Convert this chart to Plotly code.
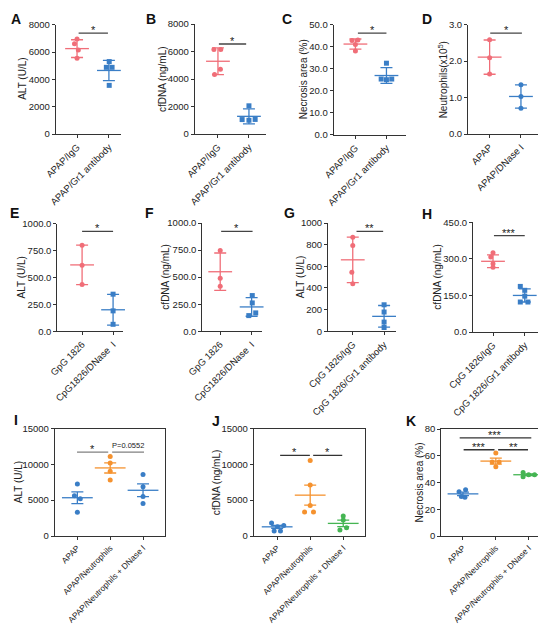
import plotly.graph_objects as go

W, H = 546, 630
FONT = "Arial, 'Liberation Sans', Helvetica, sans-serif"
RED = "#F06E78"
BLUE = "#3A7EC6"
ORANGE = "#F5922F"
GREEN = "#45B553"

# ---------------- data ----------------
A_groups = ["APAP/IgG", "APAP/Gr1 antibody"]
A_points = [[6950, 6600, 6150, 5550], [5300, 4880, 4880, 3560]]
A_jitter = [[0, -0.08, 0.04, 0], [0.01, -0.08, 0.1, 0.01]]
A_mean = [6250, 4650]
A_err = [650, 745]
A_sig = ["*"]

B_groups = ["APAP/IgG", "APAP/Gr1 antibody"]
B_points = [[6150, 6150, 4700, 4320], [2050, 1050, 1000, 1060]]
B_jitter = [[-0.13, 0.09, 0.08, -0.11], [0, -0.22, 0, 0.2]]
B_mean = [5290, 1285]
B_err = [970, 545]
B_sig = ["*"]

C_groups = ["APAP/IgG", "APAP/Gr1 antibody"]
C_points = [[42.8, 43.0, 41.0, 38.0], [32.5, 25.3, 25.0, 25.3]]
C_jitter = [[-0.11, 0.08, 0.0, 0.0], [0, -0.17, 0, 0.17]]
C_mean = [41.2, 26.9]
C_err = [2.3, 3.6]
C_sig = ["*"]

D_groups = ["APAP", "APAP/DNase I"]
D_points = [[2.59, 2.09, 1.65], [1.35, 1.03, 0.71]]
D_jitter = [[0, 0, 0], [0, 0, 0]]
D_mean = [2.11, 1.03]
D_err = [0.47, 0.32]
D_sig = ["*"]

E_groups = ["GpG 1826", "CpG1826/DNase\u00a0 I"]
E_points = [[800, 615, 435], [345, 190, 65]]
E_jitter = [[0, 0, 0], [0, 0, 0]]
E_mean = [617, 200]
E_err = [183, 143]
E_sig = ["*"]

F_groups = ["GpG 1826", "CpG1826/DNase\u00a0 I"]
F_points = [[745, 490, 415], [330, 262, 170, 145]]
F_jitter = [[0, 0, 0], [0.02, 0.02, 0.13, -0.09]]
F_mean = [550, 225]
F_err = [173, 86]
F_sig = ["*"]

G_groups = ["CpG 1826/IgG", "CpG 1826/Gr1 antibody"]
G_points = [[868, 792, 545, 440], [245, 178, 85, 35]]
G_jitter = [[0, 0, -0.03, 0], [0, 0, 0, 0]]
G_mean = [660, 138]
G_err = [210, 100]
G_sig = ["**"]

H_groups = ["CpG 1826/IgG", "CpG 1826/Gr1 antibody"]
H_points = [[325, 308, 280, 266], [187, 171, 147, 123, 123]]
H_jitter = [[0, -0.07, 0, 0], [-0.14, 0, 0, -0.14, 0.1]]
H_mean = [290, 150]
H_err = [26, 27]
H_sig = ["***"]

I_groups = ["APAP", "APAP/Neutrophils", "APAP/Neutrophils + DNase I"]
I_points = [[7250, 5600, 5200, 3300], [11100, 10180, 9040, 7800], [8580, 6880, 5500, 4540]]
I_jitter = [[0, -0.09, 0.09, 0], [0, 0, 0, 0], [0, 0, 0, 0]]
I_mean = [5340, 9500, 6380]
I_err = [810, 710, 880]
I_sig = ["*", "P=0.0552"]

J_groups = ["APAP", "APAP/Neutrophils", "APAP/Neutrophils + DNase I"]
J_points = [[1830, 1280, 1470, 700, 700], [10550, 7100, 4250, 3350, 3350], [2800, 2250, 1150, 850]]
J_jitter = [[-0.17, 0.01, 0.2, -0.09, 0.1], [0, 0, 0, -0.17, 0.1], [0, 0, 0.1, -0.1]]
J_mean = [1280, 5700, 1760]
J_err = [200, 1390, 450]
J_sig = ["*", "*"]

K_groups = ["APAP", "APAP/Neutrophils", "APAP/Neutrophils + DNase I"]
K_points = [[34.5, 33.0, 29.5, 29.0], [62.0, 55.4, 55.4, 51.7], [47.5, 44.3, 45.8, 45.8]]
K_jitter = [[0.08, -0.12, -0.05, 0.06], [0, -0.11, 0.1, 0], [-0.17, -0.17, 0, 0.18]]
K_mean = [31.5, 56.0, 45.8]
K_err = [1.3, 2.2, 0.7]
K_sig = ["***", "***", "**"]

# ---------------- layout specs (pixels) ----------------
TWO = [RED, BLUE]
panels = [
    dict(letter="A", groups=A_groups, pts=A_points, jit=A_jitter, mean=A_mean, err=A_err, sig=A_sig,
         colors=TWO, syms=["circle", "square"], box=(47.7, 113, 16.7, 126), xr=[-0.67, 1.38],
         yr=[0, 8000], ticks=[0, 2000, 4000, 6000, 8000], fmt="d", ylabel="ALT (U/L)",
         ylx=14.5, lxy=(7.5, 11), sigpos=[(0.05, 0.97, 7390)], sigcol="#444", mirror=False),
    dict(letter="B", groups=B_groups, pts=B_points, jit=B_jitter, mean=B_mean, err=B_err, sig=B_sig,
         colors=TWO, syms=["circle", "square"], box=(186.7, 258, 16, 126), xr=[-0.75, 1.55],
         yr=[0, 8000], ticks=[0, 2000, 4000, 6000, 8000], fmt="d", ylabel="cfDNA (ng/mL)",
         ylx=154, lxy=(143, 11), sigpos=[(0.03, 0.91, 6545)], sigcol="#444", mirror=False),
    dict(letter="C", groups=C_groups, pts=C_points, jit=C_jitter, mean=C_mean, err=C_err, sig=C_sig,
         colors=TWO, syms=["circle", "square"], box=(325.7, 398, 16.7, 126.7), xr=[-0.70, 1.63],
         yr=[0, 50], ticks=[0, 10, 20, 30, 40, 50], fmt=".1f", ylabel="Necrosis area (%)",
         ylx=295.5, lxy=(279, 11), sigpos=[(0.08, 1.0, 46.2)], sigcol="#444", mirror=False),
    dict(letter="D", groups=D_groups, pts=D_points, jit=D_jitter, mean=D_mean, err=D_err, sig=D_sig,
         colors=TWO, syms=["circle", "circle"], box=(460, 533, 16.7, 126), xr=[-0.69, 1.64],
         yr=[0, 3], ticks=[0, 1, 2, 3], fmt=".1f", ylabel="Neutrophils(x10<sup>5</sup>)",
         ylx=435, lxy=(419, 11), sigpos=[(0.02, 1.03, 2.77)], sigcol="#444", mirror=False),
    dict(letter="E", groups=E_groups, pts=E_points, jit=E_jitter, mean=E_mean, err=E_err, sig=E_sig,
         colors=TWO, syms=["circle", "square"], box=(49.3, 115, 215.7, 323.3), xr=[-0.80, 1.32],
         yr=[0, 1000], ticks=[0, 250, 500, 750, 1000], fmt=".1f", ylabel="ALT (U/L)",
         ylx=13, lxy=(6.5, 205), sigpos=[(0.0, 1.0, 929)], sigcol="#444", mirror=False),
    dict(letter="F", groups=F_groups, pts=F_points, jit=F_jitter, mean=F_mean, err=F_err, sig=F_sig,
         colors=TWO, syms=["circle", "square"], box=(194.3, 254, 215, 323.3), xr=[-0.57, 1.33],
         yr=[0, 1000], ticks=[0, 250, 500, 750, 1000], fmt=".1f", ylabel="cfDNA (ng/mL)",
         ylx=157.5, lxy=(141.7, 205), sigpos=[(0.03, 1.03, 923)], sigcol="#444", mirror=False),
    dict(letter="G", groups=G_groups, pts=G_points, jit=G_jitter, mean=G_mean, err=G_err, sig=G_sig,
         colors=TWO, syms=["circle", "square"], box=(320, 388, 215, 323.3), xr=[-0.79, 1.38],
         yr=[0, 1000], ticks=[0, 200, 400, 600, 800, 1000], fmt="d", ylabel="ALT (U/L)",
         ylx=292, lxy=(281, 205), sigpos=[(0.12, 0.97, 923)], sigcol="#444", mirror=False),
    dict(letter="H", groups=H_groups, pts=H_points, jit=H_jitter, mean=H_mean, err=H_err, sig=H_sig,
         colors=TWO, syms=["circle", "square"], box=(465, 537.7, 214.3, 324), xr=[-0.63, 1.66],
         yr=[0, 450], ticks=[0, 150, 300, 450], fmt=".1f", ylabel="cfDNA (ng/mL)",
         ylx=429.5, lxy=(419, 206), sigpos=[(0.03, 1.0, 395)], sigcol="#444", mirror=False),
    dict(letter="I", groups=I_groups, pts=I_points, jit=I_jitter, mean=I_mean, err=I_err, sig=I_sig,
         colors=[BLUE, ORANGE, BLUE], syms=["circle"] * 3, box=(46.7, 156.7, 420.5, 528), xr=[-0.69, 2.66],
         yr=[0, 15000], ticks=[0, 5000, 10000, 15000], fmt="d", ylabel="ALT (U/L)",
         ylx=10, lxy=(7.5, 411.5), sigpos=[(-0.01, 0.94, 11700), (1.06, 2.03, 11700)], sigcol="#808080",
         mirror=True),
    dict(letter="J", groups=J_groups, pts=J_points, jit=J_jitter, mean=J_mean, err=J_err, sig=J_sig,
         colors=[BLUE, ORANGE, GREEN], syms=["circle"] * 3, box=(245.7, 356.7, 420.5, 528), xr=[-0.71, 2.65],
         yr=[0, 15000], ticks=[0, 5000, 10000, 15000], fmt="d", ylabel="cfDNA (ng/mL)",
         ylx=208, lxy=(208, 413), sigpos=[(0.09, 0.99, 11240), (1.09, 1.97, 11240)], sigcol="#333",
         mirror=True),
    dict(letter="K", groups=K_groups, pts=K_points, jit=K_jitter, mean=K_mean, err=K_err, sig=K_sig,
         colors=[BLUE, ORANGE, GREEN], syms=["circle"] * 3, box=(433.3, 543, 421, 528), xr=[-0.66, 2.68],
         yr=[0, 80], ticks=[0, 20, 40, 60, 80], fmt="d", ylabel="Necrosis area (%)",
         ylx=411, lxy=(402.5, 413), sigpos=[(-0.1, 2.08, 73.4), (0.02, 0.96, 64.5), (1.07, 1.98, 64.5)],
         sigcol="#333", mirror=True),
]

fig = go.Figure()
layout = dict(template="none", width=W, height=H, margin=dict(l=0, r=0, t=0, b=0, autoexpand=False),
              plot_bgcolor="white", paper_bgcolor="white", showlegend=False,
              font=dict(family=FONT, size=10, color="#222"))
shapes, annotations = [], []

for i, p in enumerate(panels, start=1):
    xa = "x" if i == 1 else f"x{i}"
    ya = "y" if i == 1 else f"y{i}"
    xkey = "xaxis" if i == 1 else f"xaxis{i}"
    ykey = "yaxis" if i == 1 else f"yaxis{i}"
    x0, x1, yt, yb = p["box"]
    three = len(p["groups"]) == 3
    mean_size = 22 if three else 17
    for g, vals in enumerate(p["pts"]):
        col = p["colors"][g]
        fig.add_trace(go.Scatter(
            x=[g + j for j in p["jit"][g]], y=vals, mode="markers", xaxis=xa, yaxis=ya,
            marker=dict(color=col, size=5, symbol=p["syms"][g], line=dict(width=0)),
            hoverinfo="skip", cliponaxis=False))
        fig.add_trace(go.Scatter(
            x=[g], y=[p["mean"][g]], mode="markers", xaxis=xa, yaxis=ya,
            marker=dict(symbol="line-ew", size=mean_size, color=col, line=dict(color=col, width=1.3)),
            error_y=dict(type="data", array=[p["err"][g]], visible=True, width=6, thickness=1.3, color=col),
            hoverinfo="skip", cliponaxis=False))
    common = dict(showline=True, linecolor="#333", linewidth=1, showgrid=False, zeroline=False,
                  ticks="outside", ticklen=3, tickwidth=1, tickcolor="#333", automargin=False,
                  mirror=p["mirror"], fixedrange=True)
    layout[xkey] = dict(domain=[x0 / W, x1 / W], range=p["xr"], anchor=ya,
                        tickvals=list(range(len(p["groups"]))), ticktext=p["groups"], tickangle=-45,
                        tickfont=dict(family=FONT, size=(8.3 if three else 9.5), color="#222"), **common)
    layout[ykey] = dict(domain=[1 - yb / H, 1 - yt / H], range=p["yr"], anchor=xa,
                        tickvals=p["ticks"], tickformat=p["fmt"],
                        tickfont=dict(family=FONT, size=9.5, color="#222"), **common)
    annotations.append(dict(xref="paper", yref="paper", x=p["ylx"] / W, y=1 - (yt + yb) / 2 / H,
                            text=p["ylabel"], textangle=-90, showarrow=False, xanchor="center",
                            yanchor="middle", font=dict(family=FONT, size=10, color="#222")))
    annotations.append(dict(xref="paper", yref="paper", x=p["lxy"][0] / W, y=1 - p["lxy"][1] / H,
                            text=f"<b>{p['letter']}</b>", showarrow=False, xanchor="center",
                            yanchor="middle", font=dict(family=FONT, size=14, color="#111")))
    for (sa, sb, sy), lab in zip(p["sigpos"], p["sig"]):
        shapes.append(dict(type="line", xref=xa, yref=ya, x0=sa, x1=sb, y0=sy, y1=sy,
                           line=dict(color=p["sigcol"], width=1.3)))
        is_p = lab.startswith("P")
        annotations.append(dict(xref=xa, yref=ya, x=(sa + sb) / 2, y=sy, text=lab, showarrow=False,
                                xanchor="center", yanchor="bottom", yshift=(0 if is_p else -5),
                                font=dict(family=FONT, size=(7.5 if is_p else 11), color="#222")))

layout["shapes"] = shapes
layout["annotations"] = annotations
fig.update_layout(**layout)
fig.write_html("out.html")
